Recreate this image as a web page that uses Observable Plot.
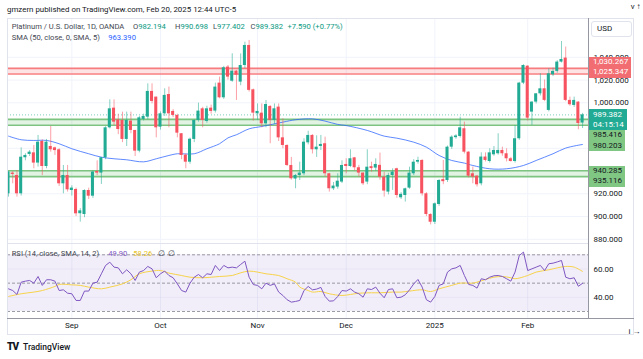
<!DOCTYPE html>
<html><head><meta charset="utf-8">
<script src="https://cdn.jsdelivr.net/npm/d3@7"></script>
<script src="https://cdn.jsdelivr.net/npm/@observablehq/plot@0.6"></script>
<style>
body{margin:0;background:#fff;font-family:Roboto,"Liberation Sans",sans-serif;}
#wrap{position:relative;width:643px;height:359px;overflow:hidden;background:#fff;}
.t{position:absolute;white-space:nowrap;font-size:8px;line-height:10px;color:#131722;}
.lg{font-size:7.6px;}
.g{color:#434651;}
.box{position:absolute;white-space:nowrap;font-size:8px;line-height:10.5px;height:10.5px;padding:0 3px 0 4px;}
.ln{position:absolute;}
</style></head><body><div id="wrap"></div>
<script>
// ---------- data ----------
const holidays = ["2024-12-25","2025-01-01"];
const firstDay = "2024-08-12", lastDay = "2025-02-20";
const tickLabels = ["Sep","Oct","Nov","Dec","2025","Feb"];
const opens = [920.0,938.2,936.1,920.0,951.7,954.6,956.0,947.0,966.0,944.0,961.6,960.4,958.7,928.8,936.1,922.9,923.8,902.5,901.8,922.9,917.9,939.6,938.2,951.7,978.0,995.3,985.0,984.5,967.8,983.9,975.7,957.5,985.4,987.4,1010.0,1005.0,978.6,990.3,1007.3,992.4,988.9,972.8,954.0,947.8,967.8,984.5,994.7,983.6,995.3,992.7,1017.3,1004.4,1031.4,1019.0,1027.8,1018.2,1032.8,1050.4,1011.4,990.3,990.9,981.5,996.8,984.5,996.2,969.2,962.5,944.9,933.0,936.1,937.6,964.8,971.3,958.7,961.6,964.0,937.6,924.4,925.9,930.3,945.8,944.0,951.6,942.9,938.2,930.3,943.4,942.6,945.0,934.6,921.5,936.1,942.0,916.5,918.5,925.0,937.6,947.8,949.3,920.0,901.8,895.0,910.6,932.0,931.7,961.0,969.8,970.4,977.2,956.6,937.6,935.5,928.8,952.3,948.4,954.3,955.2,958.1,955.2,950.8,948.4,968.4,1017.3,1032.2,991.8,1000.6,1007.9,1012.3,993.3,1024.6,1027.6,1035.8,1039.3,1002.1,997.7,1000.6,982.194];
const highs = [939.6,939.6,940.5,960.4,955.2,958.0,962.5,971.3,967.5,967.8,979.2,961.0,959.6,944.9,944.9,927.0,925.0,907.0,923.5,925.0,940.0,949.0,952.0,979.0,1002.6,1002.6,990.0,991.8,991.8,991.8,975.7,988.0,990.0,1016.7,1016.7,1005.0,992.0,1012.3,1013.8,994.0,990.0,973.0,955.0,969.0,985.0,999.7,996.0,997.0,998.0,1017.3,1022.6,1032.0,1032.8,1043.1,1028.5,1043.0,1053.3,1054.8,1012.0,999.0,999.0,1002.0,997.5,999.0,999.0,985.9,963.0,952.0,937.0,947.8,968.4,975.0,972.0,971.0,971.3,969.8,938.0,930.0,937.6,949.0,950.8,958.7,952.0,945.0,938.5,958.7,947.8,950.8,955.8,939.0,938.0,942.0,942.5,921.0,925.0,943.4,950.0,952.2,950.0,921.0,902.5,912.0,932.5,949.3,962.0,971.0,972.0,987.4,983.0,957.0,943.5,936.0,956.0,956.0,959.6,961.6,972.8,961.0,959.6,952.0,980.1,1018.0,1033.4,1032.5,1001.0,1008.0,1025.5,1020.0,1029.9,1030.5,1037.0,1053.9,1049.0,1005.0,1005.0,1001.0,990.698];
const lows = [917.1,928.8,917.1,918.0,949.0,952.8,942.0,943.5,936.0,942.0,956.6,953.7,926.5,920.0,921.5,918.0,900.0,895.1,899.0,915.0,916.0,936.0,928.2,950.0,977.0,980.0,972.0,965.0,961.6,972.8,952.8,956.0,984.0,985.0,999.1,969.2,976.0,988.0,978.0,987.0,969.2,950.0,942.0,946.0,965.0,983.0,978.0,982.0,990.0,991.0,1003.5,1003.0,1020.0,1018.0,1002.0,1015.0,1030.0,1009.4,983.9,984.5,978.0,978.0,964.0,981.0,966.0,959.6,944.0,932.0,924.4,931.7,936.0,963.0,955.0,952.0,958.0,935.0,921.5,922.9,924.0,929.0,937.6,943.0,940.0,934.6,927.3,928.0,939.0,940.0,932.0,917.1,919.0,923.0,916.0,915.0,912.7,924.0,936.0,946.0,918.0,900.0,892.7,893.0,909.0,928.0,930.0,959.0,968.0,969.0,955.0,934.0,928.8,925.9,927.0,948.0,947.0,953.0,954.0,953.0,948.0,947.9,947.0,967.0,1016.0,984.0,980.1,999.0,1006.0,1001.0,992.0,1023.0,1026.0,1035.0,1001.0,997.0,996.0,976.3,977.402];
const closes = [939.1,937.0,920.0,952.2,953.7,956.6,947.0,965.4,944.0,965.4,958.7,958.0,928.8,936.1,923.5,925.0,902.4,905.0,922.9,917.9,939.1,938.2,951.7,978.0,994.7,983.0,976.5,967.8,984.5,975.7,957.5,986.8,988.0,1010.0,1001.2,978.0,990.3,1006.5,990.3,988.9,973.3,953.7,947.8,968.0,984.5,992.7,984.5,994.7,992.4,1013.8,1004.4,1030.8,1022.6,1027.8,1024.3,1032.8,1050.4,1010.9,990.9,992.4,981.5,998.5,984.5,994.7,969.2,962.5,944.9,933.2,936.1,938.2,965.4,971.3,958.7,961.0,963.4,937.6,924.4,926.8,931.1,944.9,944.0,950.8,942.9,938.2,928.8,943.4,942.6,945.8,934.6,922.4,936.1,939.1,918.5,919.5,924.4,938.2,947.8,949.3,920.0,901.8,895.0,911.2,931.7,931.1,961.0,969.8,970.4,978.0,956.6,935.5,934.7,927.9,952.3,949.3,956.0,958.1,958.1,955.2,950.8,948.4,968.4,1017.3,1032.8,986.5,1000.6,1007.9,1012.3,1002.1,1025.5,1027.6,1035.8,1038.1,1002.1,998.3,1002.1,981.8,989.382];
const headerChange = 7.590, headerChangePct = 0.77;
const smaBar = [0,3,6,9,12,15,19,22,25,28,32,35,38,40,44,47,50,52,54,57,60,65,68,72,75,78,80,85,89,92,96,99,102,105,108,110,114,118,122,125,129,132,136];
const smaVal = [970.7,967.5,966.9,966.9,964.0,959.6,955.2,952.2,950.8,949.9,948.1,950.8,953.7,955.2,955.2,959.6,964.0,969.2,971.9,977.1,979.2,983.0,985.1,985.9,983.9,981.0,980.0,975.7,970.7,968.9,965.4,961.0,953.7,949.3,947.0,944.9,942.0,942.0,944.9,949.3,955.2,960.2,963.39];
const rsi = [46.0,44.8,42.0,50.7,51.4,51.9,50.0,54.7,48.4,52.4,52.4,51.4,44.8,45.3,42.9,42.5,37.8,37.8,44.4,44.4,50.0,50.7,56.6,62.5,64.8,61.3,60.8,56.6,59.4,56.6,51.9,57.8,58.9,61.8,60.1,53.8,56.6,58.5,55.4,53.8,49.5,44.8,43.7,50.0,54.2,56.1,53.8,56.6,56.1,62.5,58.9,62.5,60.8,61.3,60.8,63.2,65.5,54.2,49.0,48.4,46.0,50.0,48.4,49.5,43.7,41.3,38.3,36.6,37.1,37.8,44.8,47.7,45.3,45.8,47.0,40.6,37.3,37.5,40.6,44.8,44.4,46.0,43.7,42.5,40.1,46.0,45.5,47.2,42.9,39.7,45.5,46.0,39.7,40.1,41.8,45.3,49.5,52.6,47.2,38.3,36.6,40.6,48.4,49.5,57.8,60.1,60.8,62.5,55.4,49.1,48.4,46.5,53.1,52.4,54.2,55.2,55.4,54.7,53.1,51.4,57.8,69.5,71.9,58.9,60.1,61.3,62.5,58.9,63.7,64.1,65.0,66.0,54.2,53.1,53.8,47.8,49.9];
const rsiMaBar = [0,3,6,8,11,12,15,17,19,22,24,27,29,31,34,36,38,41,43,46,48,50,53,55,57,59,61,64,66,68,69,71,72,74,76,79,81,83,86,88,91,93,95,98,100,102,105,107,110,111,113,115,117,119,120,123,125,128,130,132,134,136];
const rsiMaVal = [40.6,42.5,43.7,44.8,47.7,49.1,48.8,48.4,47.2,46.0,47.2,49.5,52.4,56.6,58.5,58.9,57.1,55.4,54.2,53.8,54.2,54.7,55.4,57.3,58.5,57.8,56.6,55.4,53.1,50.7,47.2,44.8,43.7,44.1,42.5,41.3,42.0,42.9,43.2,43.2,43.7,43.7,44.4,45.3,44.1,46.0,48.4,50.0,50.0,50.7,52.6,54.2,54.7,53.8,53.1,55.4,57.8,59.4,60.8,61.8,61.3,58.26];
const redZone = [1030.267, 1025.347];
const greenZones = [[985.416, 980.203], [940.285, 935.116]];
const priceGrid = [1040,1020,1000,980,960,940,920,900,880];
const priceTickLabels = [1040,1020,1000,920,900,880];
const rsiTicks = [60,40];
const rsiLevels = [70,50,30];

// ---------- derived ----------
const dates = [];
for (let d = new Date(firstDay + "T00:00:00Z"); d <= new Date(lastDay + "T00:00:00Z"); d.setUTCDate(d.getUTCDate() + 1)) {
  const s = d.toISOString().slice(0, 10), wd = d.getUTCDay();
  if (wd !== 0 && wd !== 6 && !holidays.includes(s)) dates.push(s);
}
const bars = dates.map((date, i) => ({i, date, o: opens[i], h: highs[i], l: lows[i], c: closes[i], up: closes[i] >= opens[i]}));
const monthStarts = dates.map((d, i) => i).filter(i => i > 0 && dates[i].slice(0, 7) !== dates[i - 1].slice(0, 7));
const smaPts = smaBar.map((b, k) => ({i: b, v: smaVal[k]}));
const rsiPts = rsi.map((v, i) => ({i, v}));
const rsiMaPts = rsiMaBar.map((b, k) => ({i: b, v: rsiMaVal[k]}));
const lastClose = closes[closes.length - 1];

const teal = "#22ab94", red = "#f7525f";
const W = 643, xDomain = [-0.24, 137.4];
const baseStyle = {fontFamily: "Roboto, 'Liberation Sans', sans-serif", fontSize: "8px", color: "#131722", background: "transparent", overflow: "visible"};
const bodyLo = d => Math.min(d.o, d.c) - (Math.abs(d.o - d.c) < 0.9 ? 0.45 : 0);
const bodyHi = d => Math.max(d.o, d.c) + (Math.abs(d.o - d.c) < 0.9 ? 0.45 : 0);

const main = Plot.plot({
  width: W, height: 243, marginTop: 18, marginBottom: 0, marginLeft: 7, marginRight: 55,
  x: {domain: xDomain, axis: null},
  y: {domain: [876.31, 1074.11], axis: null},
  style: baseStyle,
  marks: [
    Plot.ruleX(monthStarts, {x: d => d, stroke: "#f0f3fa"}),
    Plot.ruleY(priceGrid, {y: d => d, stroke: "#f0f3fa"}),
    Plot.rect([redZone], {x1: xDomain[0], x2: xDomain[1], y1: d => d[0], y2: d => d[1], fill: "#f7525f", fillOpacity: 0.16}),
    Plot.rect(greenZones, {x1: xDomain[0], x2: xDomain[1], y1: d => d[0], y2: d => d[1], fill: "#4caf50", fillOpacity: 0.16}),
    Plot.ruleY(redZone, {y: d => d, stroke: "#f77c80", strokeWidth: 1.6}),
    Plot.ruleY(greenZones.flat(), {y: d => d, stroke: "#7cc47f", strokeWidth: 1.6}),
    Plot.ruleY([lastClose], {y: d => d, stroke: teal, strokeOpacity: 0.6, strokeDasharray: "1,2"}),
    Plot.line(smaPts, {x: "i", y: "v", stroke: "#2962ff", strokeOpacity: 0.75, strokeWidth: 1, curve: "catmull-rom", clip: true}),
    Plot.ruleX(bars.filter(d => d.up), {x: "i", y1: "l", y2: "h", stroke: teal, strokeOpacity: 0.55, clip: true}),
    Plot.ruleX(bars.filter(d => !d.up), {x: "i", y1: "l", y2: "h", stroke: red, strokeOpacity: 0.55, clip: true}),
    Plot.rect(bars.filter(d => d.up), {x1: d => d.i - 0.36, x2: d => d.i + 0.36, y1: bodyLo, y2: bodyHi, fill: teal, clip: true}),
    Plot.rect(bars.filter(d => !d.up), {x1: d => d.i - 0.36, x2: d => d.i + 0.36, y1: bodyLo, y2: bodyHi, fill: red, clip: true}),
    Plot.axisY(priceTickLabels, {anchor: "right", tickSize: 0, tickPadding: 5, tickFormat: d3.format(",.3f"), fill: "#131722", fontSize: 8})
  ]
});

const rsiPlot = Plot.plot({
  width: W, height: 336, marginTop: 244, marginBottom: 18, marginLeft: 7, marginRight: 55,
  x: {domain: xDomain, axis: null},
  y: {domain: [25.06, 77.27], axis: null},
  style: baseStyle,
  marks: [
    Plot.ruleX(monthStarts, {x: d => d, stroke: "#f0f3fa"}),
    Plot.rect([rsiLevels], {x1: xDomain[0], x2: xDomain[1], y1: d => d[0], y2: d => d[2], fill: "#7e57c2", fillOpacity: 0.1}),
    Plot.ruleY(rsiTicks, {y: d => d, stroke: "#7e57c2", strokeOpacity: 0.06}),
    Plot.ruleY(rsiLevels, {y: d => d, stroke: "#787b86", strokeOpacity: 0.75, strokeDasharray: "3,2"}),
    Plot.line(rsiMaPts, {x: "i", y: "v", stroke: "#f7d34a", strokeWidth: 1, curve: "catmull-rom", clip: true}),
    Plot.line(rsiPts, {x: "i", y: "v", stroke: "#7e57c2", strokeWidth: 1, clip: true}),
    Plot.axisY(rsiTicks, {anchor: "right", tickSize: 0, tickPadding: 5, tickFormat: d3.format(".2f"), fill: "#131722", fontSize: 8}),
    Plot.axisX(monthStarts, {anchor: "bottom", tickSize: 0, tickPadding: 4, tickFormat: (d, k) => tickLabels[k], fill: "#131722", fontSize: 8})
  ]
});

const wrap = document.getElementById("wrap");
for (const svg of [main, rsiPlot]) {
  svg.style.position = "absolute"; svg.style.left = "0"; svg.style.top = "0";
  wrap.appendChild(svg);
}

function add(html, cls, css) {
  const e = document.createElement("div");
  e.className = cls; e.innerHTML = html; Object.assign(e.style, css || {}); wrap.appendChild(e); return e;
}
// frame lines
add("", "ln", {left: "7px", top: "18px", width: "627px", height: "317px", border: "1px solid #e0e3eb", boxSizing: "border-box"});
add("", "ln", {left: "7px", top: "243px", width: "581px", height: "1px", background: "#e0e3eb"});
add("", "ln", {left: "588px", top: "18px", width: "1px", height: "300px", background: "#9598a1"});
add("", "ln", {left: "7px", top: "318px", width: "627px", height: "1px", background: "#9598a1"});

// header texts
add("gmzern published on TradingView.com, Feb 20, 2025 12:44 UTC-5", "t", {left: "7px", top: "5px", fontSize: "7.9px"});
const o = d3.format(".3f");
const up = "#089981";
add(`<span class="g">Platinum / U.S. Dollar, 1D, OANDA</span>`, "t lg", {left: "11.7px", top: "21.7px"});
add(`<span class="g">O</span><span style="color:${up}">${o(opens.at(-1))}</span>`, "t lg", {left: "133px", top: "21.7px"});
add(`<span class="g">H</span><span style="color:${up}">${o(highs.at(-1))}</span>`, "t lg", {left: "175px", top: "21.7px"});
add(`<span class="g">L</span><span style="color:${up}">${o(lows.at(-1))}</span>`, "t lg", {left: "213px", top: "21.7px"});
add(`<span class="g">C</span><span style="color:${up}">${o(lastClose)}</span>`, "t lg", {left: "250.5px", top: "21.7px"});
add(`<span style="color:${up}">+${o(headerChange)} (+${headerChangePct.toFixed(2)}%)</span>`, "t lg", {left: "287.5px", top: "21.7px"});
add(`<span class="g">SMA (50, close, 0, SMA, 5)</span>`, "t lg", {left: "11.7px", top: "33.3px"});
add(`<span style="color:#2962ff">${o(smaVal.at(-1))}</span>`, "t lg", {left: "108.3px", top: "33.3px"});
add(`<span class="g">RSI (14, close, SMA, 14, 2)</span>`, "t lg", {left: "11.7px", top: "249px"});
add(`<span style="color:#7e57c2">${rsi.at(-1).toFixed(2)}</span>`, "t lg", {left: "108.3px", top: "249px"});
add(`<span style="color:#e8c21c">${rsiMaVal.at(-1).toFixed(2)}</span>`, "t lg", {left: "133.3px", top: "249px"});
add(`<span class="g">∅</span>`, "t lg", {left: "158.3px", top: "249px"});
add(`<span class="g">∅</span>`, "t lg", {left: "168.3px", top: "249px"});

// USD box
add("USD", "t", {left: "591px", top: "21px", width: "41px", height: "16px", lineHeight: "14px", border: "1px solid #e0e3eb", borderRadius: "3px", boxSizing: "border-box", paddingLeft: "5px", background: "#fff"});

// price label boxes (shift = collision offset of the axis label)
const ys = main.scale("y");
const boxes = [
  {v: redZone[0], bg: "#f26d72", fg: "#fff", shift: -6},
  {v: redZone[1], bg: "#f26d72", fg: "#fff", shift: -1},
  {v: greenZones[0][0], bg: "#81c784", fg: "#131722", shift: 16.4},
  {v: greenZones[0][1], bg: "#81c784", fg: "#131722", shift: 21},
  {v: greenZones[1][0], bg: "#81c784", fg: "#131722", shift: 1},
  {v: greenZones[1][1], bg: "#81c784", fg: "#131722", shift: 5.6}
];
for (const b of boxes) {
  const y = ys.apply(b.v) + b.shift;
  add(d3.format(",.3f")(b.v), "box", {left: "589px", top: (y - 5.25) + "px", background: b.bg, color: b.fg});
}
const yl = ys.apply(lastClose);
add(`${o(lastClose)}<br>04:15:14`, "box", {left: "589px", top: (yl - 5.25) + "px", height: "20px", lineHeight: "10px", paddingTop: "0.5px", background: teal, color: "#fff"});

// footer
add(`<span style="font-weight:900;font-size:10px;letter-spacing:-1px">TV</span>`, "t", {left: "7px", top: "342px", lineHeight: "10px"});
add("TradingView", "t", {left: "23px", top: "342px", fontSize: "8.5px", fontWeight: "500"});
</script></body></html>
